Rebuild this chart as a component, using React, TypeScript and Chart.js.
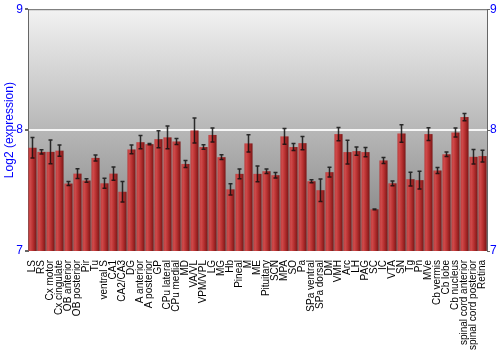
import React, { useEffect, useRef } from "react";
import { Chart, registerables } from "chart.js";

Chart.register(...registerables);

const categories = [
  "LS", "RS", "Cx motor", "Cx cingulate", "OB anterior", "OB posterior", "Pir", "Tu",
  "ventral S", "CA1", "CA2/CA3", "DG", "A anterior", "A posterior", "GP", "CPu lateral",
  "CPu medial", "MD", "VA/VL", "VPM/VPL", "LG", "MG", "Hb", "Pineal", "M", "ME",
  "Pituitary", "SCN", "MPA", "SO", "Pa", "SPa ventral", "SPa dorsal", "DM", "VMH", "Arc",
  "LH", "PAG", "SC", "IC", "VTA", "SN", "Tg", "Pn", "MVe", "Cb vermis", "Cb lobe",
  "Cb nucleus", "spinal cord anterior", "spinal cord posterior", "Retina",
];

const expression = [
  7.854, 7.82, 7.82, 7.83, 7.558, 7.64, 7.583, 7.77,
  7.56, 7.64, 7.49, 7.84, 7.9, 7.884, 7.925, 7.94,
  7.906, 7.72, 7.997, 7.86, 7.96, 7.776, 7.51, 7.638, 7.89, 7.638,
  7.66, 7.627, 7.948, 7.86, 7.892, 7.577, 7.503, 7.652, 7.967, 7.818,
  7.826, 7.818, 7.345, 7.749, 7.56, 7.972, 7.594, 7.586, 7.967, 7.666, 7.8,
  7.98, 8.108, 7.779, 7.785,
];

const errors = [
  0.084, 0.018, 0.098, 0.047, 0.017, 0.041, 0.015, 0.025,
  0.041, 0.055, 0.084, 0.036, 0.055, 0.006, 0.07, 0.094,
  0.025, 0.029, 0.104, 0.018, 0.058, 0.02, 0.046, 0.041, 0.072, 0.065,
  0.018, 0.023, 0.065, 0.029, 0.055, 0.012, 0.093, 0.04, 0.055, 0.098,
  0.035, 0.039, 0.003, 0.025, 0.02, 0.072, 0.057, 0.073, 0.052, 0.025, 0.019,
  0.037, 0.03, 0.06, 0.049,
];

const yTicks = [7, 8, 9];

const FONT = "'Liberation Sans', Arial, sans-serif";

const bgPlugin = {
  id: "bgGradient",
  beforeDraw(chart: any) {
    const { ctx, chartArea } = chart;
    if (!chartArea) return;
    const g = ctx.createLinearGradient(0, chartArea.top, 0, chartArea.bottom);
    g.addColorStop(0, "#f2f2f2");
    g.addColorStop(1, "#7c7c7c");
    ctx.save();
    ctx.fillStyle = g;
    ctx.fillRect(chartArea.left, chartArea.top, chartArea.right - chartArea.left, chartArea.bottom - chartArea.top);
    ctx.restore();
  },
};

const barPlugin = {
  id: "barsAndErrors",
  afterDatasetsDraw(chart: any) {
    const { ctx, chartArea } = chart;
    const meta = chart.getDatasetMeta(0);
    const yScale = chart.scales.y;
    ctx.save();
    meta.data.forEach((el: any) => {
      const { x, y, width } = el.getProps(["x", "y", "width"], true);
      const bottom = yScale.getPixelForValue(yScale.min);
      const l = x - width / 2;
      const g = ctx.createLinearGradient(l, 0, l + width, 0);
      g.addColorStop(0, "#b83434");
      g.addColorStop(0.2, "#d04c4c");
      g.addColorStop(0.55, "#b83030");
      g.addColorStop(1, "#7a1616");
      ctx.fillStyle = g;
      ctx.fillRect(l, y, width, Math.min(bottom, chartArea.bottom) - y);
    });
    ctx.strokeStyle = "rgba(15,15,15,0.85)";
    ctx.lineWidth = 1.5;
    meta.data.forEach((el: any, i: number) => {
      const { x } = el.getProps(["x"], true);
      const v = expression[i];
      const e = errors[i];
      const yHi = yScale.getPixelForValue(v + e);
      const yLo = yScale.getPixelForValue(v - e);
      ctx.beginPath();
      ctx.moveTo(x, yHi);
      ctx.lineTo(x, yLo);
      ctx.moveTo(x - 2, yHi);
      ctx.lineTo(x + 2, yHi);
      ctx.moveTo(x - 2, yLo);
      ctx.lineTo(x + 2, yLo);
      ctx.stroke();
    });
    ctx.restore();
  },
};

const borderPlugin = {
  id: "topBorder",
  afterDraw(chart: any) {
    const { ctx, chartArea } = chart;
    ctx.save();
    ctx.strokeStyle = "#666666";
    ctx.lineWidth = 1;
    ctx.beginPath();
    ctx.moveTo(chartArea.left, chartArea.top + 0.5);
    ctx.lineTo(chartArea.right, chartArea.top + 0.5);
    ctx.stroke();
    ctx.restore();
  },
};

export default function App() {
  const ref = useRef<HTMLCanvasElement | null>(null);
  useEffect(() => {
    document.body.style.margin = "0";
    if (!ref.current) return;
    const tickCb = (v: any) => (yTicks.includes(v) ? String(v) : "");
    const chart = new Chart(ref.current, {
      type: "bar",
      data: {
        labels: categories,
        datasets: [
          {
            data: expression,
            backgroundColor: "rgba(0,0,0,0)",
            borderWidth: 0,
            barPercentage: 0.9,
            categoryPercentage: 1,
          },
        ],
      },
      options: {
        responsive: false,
        animation: false,
        layout: { padding: { top: 9, left: 0, right: 0, bottom: 0 } },
        plugins: { legend: { display: false }, tooltip: { enabled: false } },
        scales: {
          x: {
            ticks: {
              autoSkip: false,
              maxRotation: 90,
              minRotation: 90,
              color: "#000000",
              font: { family: FONT, size: 10 },
              padding: 1,
            },
            grid: { display: false },
            border: { display: false },
            afterFit: (s: any) => {
              s.height = 99;
            },
          },
          y: {
            min: 7,
            max: 9,
            ticks: { stepSize: 1, color: "#0000ff", font: { family: FONT, size: 12 }, padding: 2, callback: tickCb },
            grid: {
              color: (c: any) => (c.tick && c.tick.value === 8 ? "#f6f6f6" : "rgba(0,0,0,0)"),
              lineWidth: 2,
              tickColor: "#666666",
              tickLength: 3,
            },
            border: { color: "#666666" },
            title: {
              display: true,
              text: "Log2 (expression)",
              color: "#0000ff",
              font: { family: FONT, size: 12 },
              padding: { top: 2, bottom: 0 },
            },
            afterFit: (s: any) => {
              s.width = 28;
            },
          },
          y2: {
            position: "right",
            min: 7,
            max: 9,
            ticks: { stepSize: 1, color: "#0000ff", font: { family: FONT, size: 12 }, padding: 0, callback: tickCb },
            grid: { drawOnChartArea: false, tickColor: "#666666", tickLength: 3 },
            border: { color: "#666666" },
            afterFit: (s: any) => {
              s.width = 13;
            },
          },
        },
      },
      plugins: [bgPlugin, barPlugin, borderPlugin],
    });
    return () => chart.destroy();
  }, []);
  return <canvas ref={ref} width={500} height={350} style={{ display: "block" }} />;
}
